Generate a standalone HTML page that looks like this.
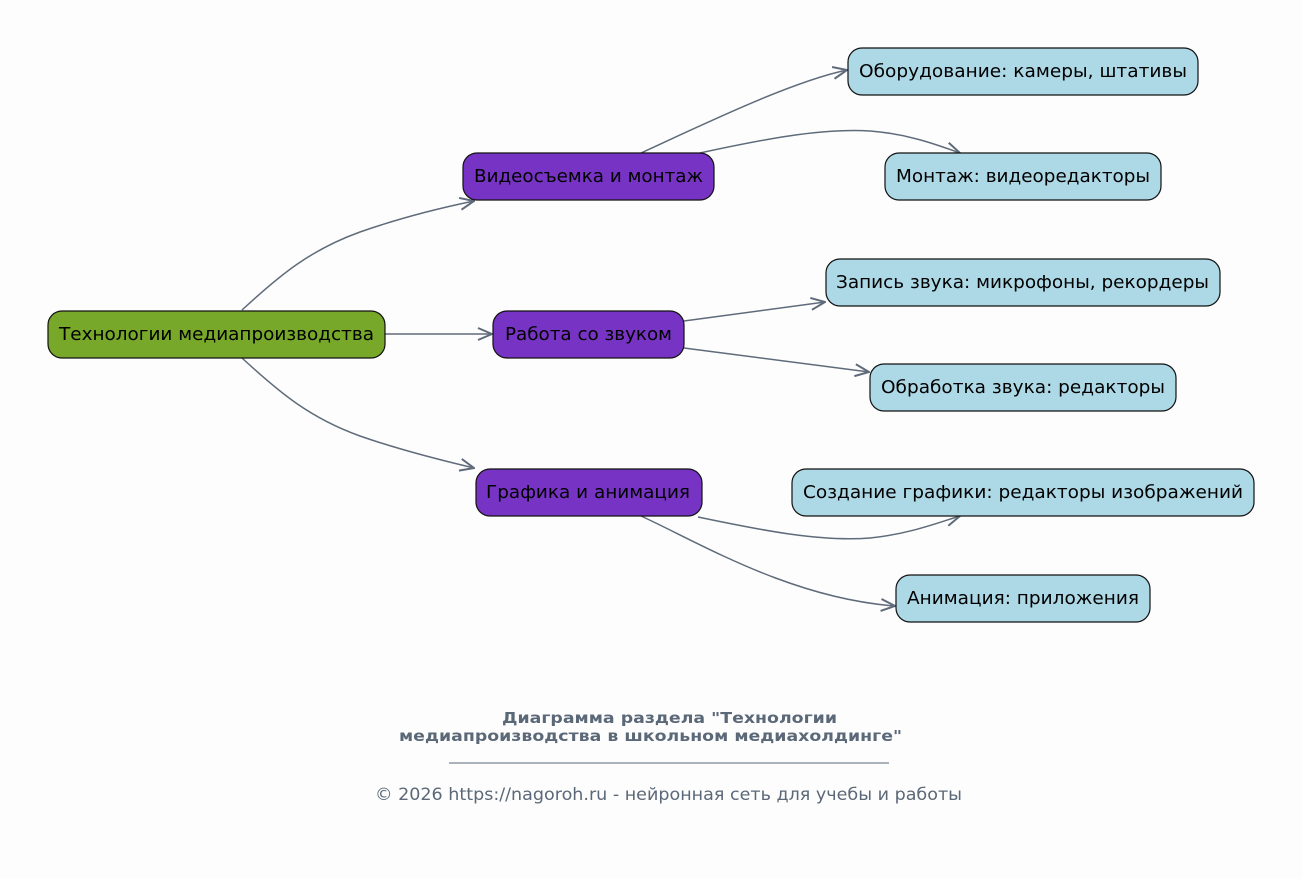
<!DOCTYPE html>
<html><head><meta charset="utf-8"><style>
html,body{margin:0;padding:0;background:#fdfdfd;}
svg{display:block;}
text{font-family:"DejaVu Sans","Liberation Sans",sans-serif;}
</style></head><body>
<svg width="1303" height="879" viewBox="0 0 1303 879" xmlns="http://www.w3.org/2000/svg">
<defs>
<marker id="a" viewBox="0 0 16 16" refX="15" refY="8" markerWidth="16" markerHeight="16" markerUnits="userSpaceOnUse" orient="auto">
<path d="M1,2 L15,8 L1,14" fill="none" stroke="#5f6b7a" stroke-width="2"/>
</marker>
</defs>
<rect width="1303" height="879" fill="#fdfdfd"/>
<g fill="none" stroke="#5f6b7a" stroke-width="1.5" marker-end="url(#a)">
<path d="M242,310 C280,275 310,250 360,232 C400,218 440,208 474,201"/>
<path d="M385,334 L492,334"/>
<path d="M242,358 C280,393 310,418 360,436 C400,450 440,460 474,468"/>
<path d="M641,153 C700,126 790,82 847,70"/>
<path d="M700,153 C760,140 820,128 870,131 C910,134 940,146 960,153"/>
<path d="M684,321 L825,302"/>
<path d="M684,348 L869,372"/>
<path d="M698,517 C760,530 820,542 870,538 C910,534 940,522 960,516"/>
<path d="M641,516 C700,543 790,598 895,606"/>
</g>
<g stroke="#111" stroke-width="1.2">
<rect x="48" y="311" width="337" height="47" rx="14" fill="#77a82a"/>
<rect x="463" y="153" width="251" height="47" rx="14" fill="#7734c4"/>
<rect x="493" y="311" width="191" height="47" rx="14" fill="#7734c4"/>
<rect x="476" y="469" width="226" height="47" rx="14" fill="#7734c4"/>
<rect x="848" y="48" width="350" height="47" rx="14" fill="#add8e6"/>
<rect x="885" y="153" width="276" height="47" rx="14" fill="#add8e6"/>
<rect x="826" y="259" width="394" height="47" rx="14" fill="#add8e6"/>
<rect x="870" y="364" width="306" height="47" rx="14" fill="#add8e6"/>
<rect x="792" y="469" width="462" height="47" rx="14" fill="#add8e6"/>
<rect x="896" y="575" width="254" height="47" rx="14" fill="#add8e6"/>
</g>
<g font-size="17.5" fill="#000" text-anchor="middle">
<text x="216.5" y="340" textLength="315" lengthAdjust="spacingAndGlyphs">Технологии медиапроизводства</text>
<text x="588.5" y="182" textLength="229" lengthAdjust="spacingAndGlyphs">Видеосъемка и монтаж</text>
<text x="588.5" y="340" textLength="167" lengthAdjust="spacingAndGlyphs">Работа со звуком</text>
<text x="588" y="498" textLength="204" lengthAdjust="spacingAndGlyphs">Графика и анимация</text>
<text x="1023" y="77" textLength="328" lengthAdjust="spacingAndGlyphs">Оборудование: камеры, штативы</text>
<text x="1023" y="182" textLength="254" lengthAdjust="spacingAndGlyphs">Монтаж: видеоредакторы</text>
<text x="1022.5" y="288" textLength="373" lengthAdjust="spacingAndGlyphs">Запись звука: микрофоны, рекордеры</text>
<text x="1023" y="393" textLength="284" lengthAdjust="spacingAndGlyphs">Обработка звука: редакторы</text>
<text x="1023" y="498" textLength="440" lengthAdjust="spacingAndGlyphs">Создание графики: редакторы изображений</text>
<text x="1023" y="604" textLength="232" lengthAdjust="spacingAndGlyphs">Анимация: приложения</text>
</g>
<g fill="#5b6878" text-anchor="middle" font-size="15.5" font-weight="bold">
<text x="669.5" y="723" textLength="335" lengthAdjust="spacingAndGlyphs">Диаграмма раздела "Технологии</text>
<text x="650.5" y="741" textLength="503" lengthAdjust="spacingAndGlyphs">медиапроизводства в школьном медиахолдинге"</text>
</g>
<line x1="449" y1="763" x2="889" y2="763" stroke="#5b6878" stroke-width="1"/>
<text x="668.5" y="800" font-size="16.5" fill="#5b6878" text-anchor="middle" textLength="587" lengthAdjust="spacingAndGlyphs">© 2026 https://nagoroh.ru - нейронная сеть для учебы и работы</text>
</svg>
</body></html>
